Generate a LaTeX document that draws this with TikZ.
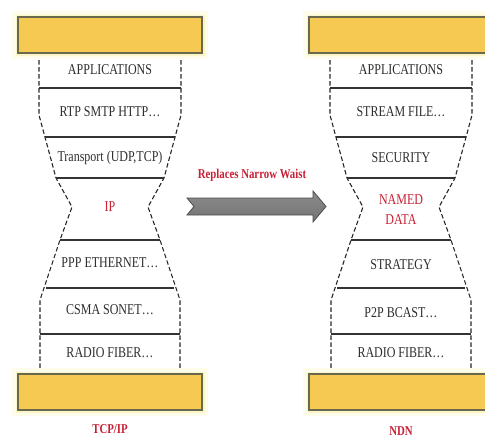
\documentclass[tikz,border=0pt]{standalone}
\usepackage{fontspec}
\setmainfont[FakeStretch=0.8]{Liberation Serif}
\usepackage{tikz}
\usetikzlibrary{positioning}
\usepackage{xcolor}
\definecolor{barfill}{RGB}{246,202,82}
\definecolor{barline}{RGB}{105,105,80}
\definecolor{halo}{RGB}{250,246,200}
\definecolor{halosoft}{RGB}{254,253,236}
\definecolor{waistred}{RGB}{200,32,52}
\definecolor{layertext}{RGB}{45,45,45}

\begin{document}
\begin{tikzpicture}[
    x=1pt, y=-1pt,
    every node/.style={font=\fontsize{15}{20}\selectfont, text=layertext},
    % Yellow end bars
    bar/.style={
      rectangle, draw=barline, line width=1.2pt, fill=barfill,
      minimum width=184pt, minimum height=36pt,
      preaction={draw=halosoft, line width=12pt},
      preaction={draw=halo, line width=5pt}
    },
    % Hourglass outline and layer separators
    waistline/.style={dashed, dash pattern=on 4.5pt off 2.5pt, line width=1.1pt, black!85},
    sepline/.style={line width=1.3pt, black!80},
    % Red labels
    redlbl/.style={text=waistred, font=\fontsize{13.5}{15}\selectfont\bfseries},
    % Replacement arrow
    bigarrow/.style={draw=black!70, line width=0.8pt,
      top color=black!45, middle color=black!5, bottom color=black!55}
  ]
  \useasboundingbox (0,0) rectangle (485,439);

  % ============ TCP/IP stack ============
  \begin{scope}[shift={(110,0)}]
    \foreach \s in {-1,1}
      \draw[waistline] (\s*71,53) -- (\s*71,115) -- (\s*54,178) -- (\s*38,207)
        -- (\s*50,240) -- (\s*70,300) -- (\s*70,373);
    \draw[sepline] (-71,88) -- (71,88);
    \draw[sepline] (-65,137) -- (65,137);
    \draw[sepline] (-54,178) -- (54,178);
    \draw[sepline] (-50,240) -- (50,240);
    \draw[sepline] (-64,288) -- (64,288);
    \draw[sepline] (-70,334) -- (70,334);

    \node (lapp) at (0,70) {APPLICATIONS};
    \node (lrtp) at (0,112) {RTP SMTP HTTP\dots};
    \node (ltrans) at (0,158) {Transport (UDP,TCP)};
    \node[text=waistred] (lip) at (0,207) {IP};
    \node (lppp) at (0,263) {PPP ETHERNET\dots};
    \node (lcsma) at (0,310) {CSMA SONET\dots};
    \node (lradio) at (0,353) {RADIO FIBER\dots};

    \node[bar] (ltop) at (0,35) {};
    \node[bar] (lbot) at (0,392) {};
    \node[redlbl, below=10pt of lbot] (tcpip) {TCP/IP};
  \end{scope}

  % ============ NDN stack ============
  \begin{scope}[shift={(401,0)}]
    \foreach \s in {-1,1}
      \draw[waistline] (\s*71,53) -- (\s*71,115) -- (\s*54,178) -- (\s*38,207)
        -- (\s*50,240) -- (\s*70,300) -- (\s*70,373);
    \draw[sepline] (-71,88) -- (71,88);
    \draw[sepline] (-65,137) -- (65,137);
    \draw[sepline] (-54,178) -- (54,178);
    \draw[sepline] (-50,240) -- (50,240);
    \draw[sepline] (-64,288) -- (64,288);
    \draw[sepline] (-70,334) -- (70,334);

    \node (rapp) at (0,70) {APPLICATIONS};
    \node (rstream) at (0,112) {STREAM FILE\dots};
    \node (rsec) at (0,158) {SECURITY};
    \node[text=waistred, align=center] (rnamed) at (0,210) {NAMED\\DATA};
    \node (rstrat) at (0,265) {STRATEGY};
    \node (rp2p) at (0,313) {P2P BCAST\dots};
    \node (rradio) at (0,353) {RADIO FIBER\dots};

    \node[bar] (rtop) at (0,35) {};
    \node[bar] (rbot) at (0,392) {};
    \node[redlbl, below=13pt of rbot] (ndn) {NDN};
  \end{scope}

  % ============ Replacement arrow ============
  \draw[bigarrow] (187,198) -- (313,198) -- (313,191) -- (326,206.5) -- (313,222)
    -- (313,215) -- (187,215) -- (194,206.5) -- cycle;
  \node[redlbl] (waistlbl) at (252,175) {Replaces Narrow Waist};

\end{tikzpicture}
\end{document}
